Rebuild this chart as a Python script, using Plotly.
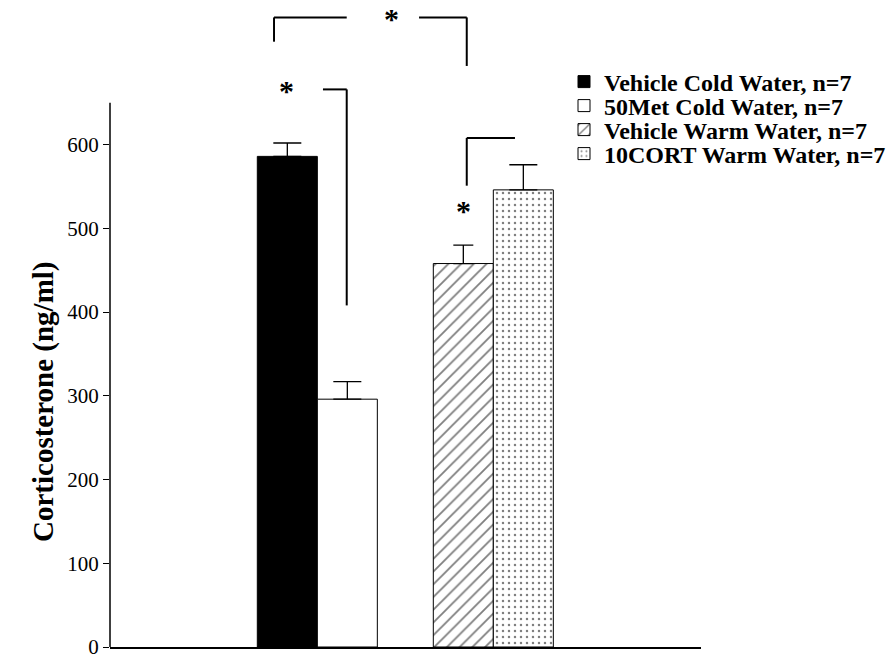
import plotly.graph_objects as go

# ---- data ----
groups = ["Cold Water", "Cold Water", "Warm Water", "Warm Water"]
names = ["Vehicle Cold Water, n=7", "50Met Cold Water, n=7",
         "Vehicle Warm Water, n=7", "10CORT Warm Water, n=7"]
means = [586, 296, 458, 546]
sems = [16, 21, 22, 30]
offset_groups = ["vehicle", "drug", "vehicle", "drug"]
y_ticks = [0, 100, 200, 300, 400, 500, 600]
y_title = "Corticosterone (ng/ml)"

# ---- styles ----
fills = ["black", "white", "white", "white"]
patterns = ["", "", "/", "."]
pattern_sizes = [8, 8, 9, 6]
pattern_solid = [0.3, 0.3, 0.2, 0.13]
cap_widths = [14, 14, 10, 14]
legend_ids = ["legend", "legend2", "legend3", "legend4"]
legend_rows = [82, 106, 130, 154]   # pixel rows of legend entries

# significance brackets (category-index x, data y)
bracket_segments = [
    ((-0.246, 723), (-0.246, 752)),
    ((-0.246, 752), (0.167, 752)),
    ((0.578, 752), (0.849, 752)),
    ((0.849, 752), (0.849, 694)),
    ((0.032, 666), (0.167, 666)),
    ((0.167, 666), (0.167, 408)),
    ((0.849, 608), (1.123, 608)),
    ((0.849, 608), (0.849, 551)),
]
stars = [(0.419, 752), (-0.174, 666), (0.828, 523)]

SERIF = "Liberation Serif, Times New Roman, serif"

W, H = 895, 660
ML, MR, MT, MB = 110, 194, 4, 13
plot_w = W - ML - MR
plot_h = H - MT - MB
y_max = 768

fig = go.Figure()
for i in range(4):
    fig.add_trace(go.Bar(
        x=[groups[i]], y=[means[i]], name=names[i],
        offsetgroup=offset_groups[i],
        marker=dict(color=fills[i],
                    line=dict(color="black", width=1),
                    pattern=dict(shape=patterns[i], fgcolor="black", bgcolor="white",
                                 size=pattern_sizes[i], solidity=pattern_solid[i]) if patterns[i] else None),
        error_y=dict(type="data", array=[sems[i]], arrayminus=[0], symmetric=False,
                     color="black", thickness=1.3, width=cap_widths[i]),
        legend=legend_ids[i],
        showlegend=True,
    ))

shapes = []
for (x0, y0), (x1, y1) in bracket_segments:
    shapes.append(dict(type="line", xref="x", yref="y", x0=x0, y0=y0, x1=x1, y1=y1,
                       line=dict(color="black", width=2)))
# y-axis line only up to 650
shapes.append(dict(type="line", xref="paper", yref="y", x0=0, x1=0, y0=0, y1=650,
                   line=dict(color="black", width=1.5)))

annotations = []
for sx, sy in stars:
    annotations.append(dict(x=sx, y=sy, xref="x", yref="y", text="<b>*</b>", showarrow=False,
                            font=dict(family=SERIF, size=30, color="black"),
                            yanchor="middle", yshift=-1))
# y-axis title as rotated text
annotations.append(dict(x=(43 - ML) / plot_w, y=(H - MB - 402) / plot_h, xref="paper", yref="paper",
                        text="<b>" + y_title + "</b>", textangle=-90, showarrow=False,
                        xanchor="center", yanchor="middle",
                        font=dict(family=SERIF, size=29, color="black")))

legend_common = dict(font=dict(family=SERIF, size=24, color="black", weight="bold"),
                     bgcolor="rgba(0,0,0,0)", borderwidth=0, xanchor="left", yanchor="middle",
                     x=(564 - ML) / plot_w, tracegroupgap=0, itemwidth=30)
layout_legends = {}
for lid, row in zip(legend_ids, legend_rows):
    d = dict(legend_common)
    d["y"] = (H - MB - row) / plot_h
    layout_legends[lid] = d

fig.update_layout(
    width=W, height=H,
    margin=dict(l=ML, r=MR, t=MT, b=MB, autoexpand=False),
    paper_bgcolor="white", plot_bgcolor="white",
    barmode="group", bargap=0.318, bargroupgap=0,
    font=dict(family=SERIF, color="black"),
    xaxis=dict(type="category", range=[-1.178, 2.18], showticklabels=False, ticks="",
               automargin=False,
               showline=True, linecolor="black", linewidth=1.5, showgrid=False, zeroline=False),
    yaxis=dict(range=[0, y_max], tickvals=y_ticks, ticks="outside", ticklen=6, tickcolor="black",
               tickwidth=1, showline=False, showgrid=False, zeroline=False,
               ticklabeloverflow="allow", automargin=False,
               tickfont=dict(family=SERIF, size=21, color="black")),
    shapes=shapes, annotations=annotations,
    **layout_legends,
)

fig.write_html("out.html")
